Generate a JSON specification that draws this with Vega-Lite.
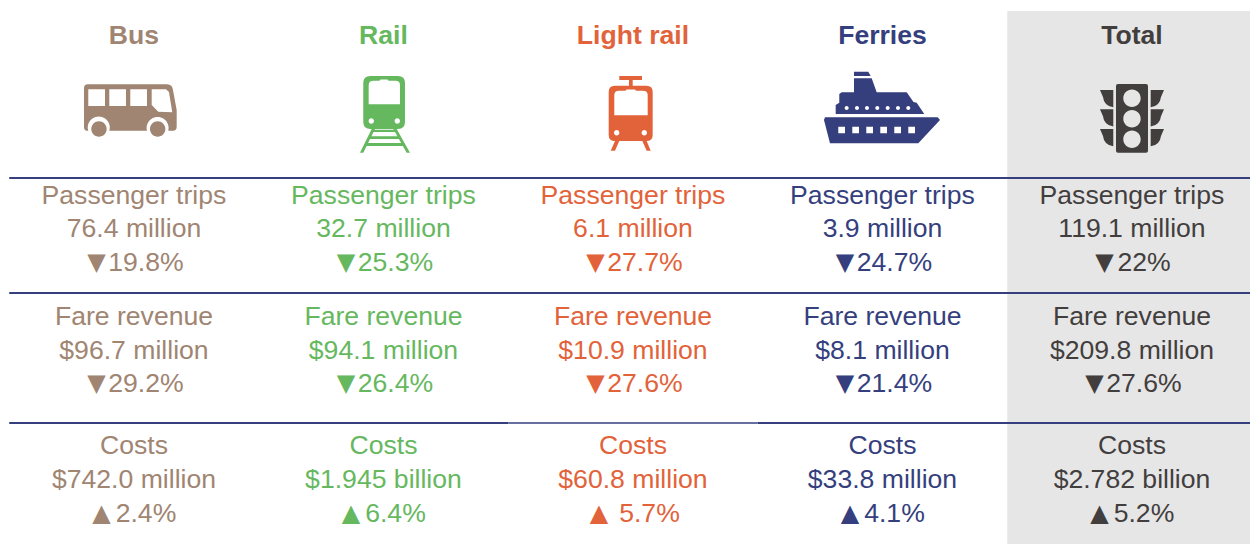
{
"$schema":"https://vega.github.io/schema/vega-lite/v6.json",
"width":1250,"height":544,"padding":0,"autosize":{"type":"none"},"background":"white",
"view":{"stroke":null},
"config":{"font":"Liberation Sans"},
"layer":[
{"data":{"values":[{"x0":3.5,"x1":4.473,"r0":0,"r1":16}]},
 "mark":{"type":"rect","fill":"#E6E6E6"},
 "encoding":{"x":{"field":"x0","type":"quantitative","axis":null,"scale":{"domain":[-0.537,4.473],"range":[0,1250],"nice":false,"zero":false}},"x2":{"field":"x1"},
 "y":{"field":"r0","type":"quantitative","axis":null,"scale":{"domain":[0,1,2,3,4,5,6,7,8,9,10,11,12,13,14,15,16],"range":[11,36,115,178,196,229,263,293,317,351,384,423,446,480,514,530,544],"nice":false,"zero":false}},"y2":{"field":"r1"}}},
{"data":{"values":[
{"r":3,"x0":-0.5,"x1":4.473,"w":"thick"},
{"r":7,"x0":-0.5,"x1":4.473,"w":"thick"},
{"r":11,"x0":-0.5,"x1":1.5,"w":"thick"},
{"r":11,"x0":1.5,"x1":2.5,"w":"thin"},
{"r":11,"x0":2.5,"x1":4.473,"w":"thick"}]},
 "mark":{"type":"rule","color":"#363F7E"},
 "encoding":{"x":{"field":"x0","type":"quantitative"},"x2":{"field":"x1"},"y":{"field":"r","type":"quantitative"},
 "strokeWidth":{"field":"w","type":"nominal","legend":null,"scale":{"domain":["thick","thin"],"range":[2,1.6]}}}},
{"data":{"values":[
{"col":0,"r":2,"mode":"Bus"},{"col":1,"r":2,"mode":"Rail"},{"col":2,"r":2,"mode":"Light rail"},{"col":3,"r":2,"mode":"Ferries"},{"col":4,"r":2,"mode":"Total"}]},
 "mark":{"type":"point","filled":true,"size":4,"opacity":1,"strokeWidth":0},
 "encoding":{"x":{"field":"col","type":"quantitative"},"y":{"field":"r","type":"quantitative"},
 "color":{"field":"mode","type":"nominal","legend":null,"scale":{"domain":["Bus","Rail","Light rail","Ferries","Total"],"range":["#A08572","#66B85F","#E2633A","#363F7E","#433E3E"]}},
 "shape":{"field":"mode","type":"nominal","legend":null,"scale":{"domain":["Bus","Rail","Light rail","Ferries","Total"],"range":[
 "M-50 -26.7Q-50 -30.7 -46 -30.7L32.7 -30.7Q39 -30.7 39.3 -23.3L42.7 -5L42.7 11.7Q42.7 15.7 39 15.7L34.3 15.7A11 11 0 1 0 13 15.7L-24.7 15.7A11 11 0 1 0 -45.7 15.7L-47 15.7Q-50 15.7 -50 12ZM-45.7 -25.7L-45.7 -9L-29 -9L-29 -25.7ZM-24.7 -25.7L-24.7 -9L-8 -9L-8 -25.7ZM-3.7 -25.7L-3.7 -9L13 -9L13 -25.7ZM17.7 -25.7L17.7 -10L24.3 -3.3L38.3 -2.7L35 -23L32 -25.7ZM-42.7 14A7.7 7.7 0 1 1 -27.3 14A7.7 7.7 0 1 1 -42.7 14ZM16 14A7.7 7.7 0 1 1 31.4 14A7.7 7.7 0 1 1 16 14Z",
 "M-20.2 -32Q-20.2 -39 -13 -39L14.5 -39Q21.5 -39 21.5 -32L21.5 7Q21.5 14 14.5 14L-13 14Q-20.2 14 -20.2 7ZM-14.8 -30L-14.8 -10.7L16.5 -10.7L16.5 -30Q16.5 -34.3 12 -34.3L5 -34.3L4 -35.5L-3 -35.5L-4 -34.3L-10 -34.3Q-14.8 -34.3 -14.8 -30ZM-14.9 6A2.7 2.7 0 1 0 -9.5 6A2.7 2.7 0 1 0 -14.9 6ZM11.1 6A2.7 2.7 0 1 0 16.5 6A2.7 2.7 0 1 0 11.1 6ZM-11.8 14L-8.5 14L-20.2 37.7L-23.5 37.7ZM9.8 14L13.2 14L26.5 37.7L23.2 37.7ZM-11 14.7L12 14.7L12 17L-11 17ZM-15 21.3L16 21.3L16 24L-15 24ZM-18.5 28L19.5 28L19.5 31L-18.5 31Z",
 "M-24.3 -23Q-24.3 -29.3 -18 -29.3L13.4 -29.3Q19.7 -29.3 19.7 -23L19.7 20Q19.7 26 13.4 26L-18 26Q-24.3 26 -24.3 20ZM-18.7 -20L-18.7 0.3L14.7 0.3L14.7 -20Q14.7 -24.3 10 -24.3L3 -24.3L2 -25.5L-6.5 -25.5L-7.5 -24.3L-14 -24.3Q-18.7 -24.3 -18.7 -20ZM-19 17.7A2.7 2.7 0 1 0 -13.6 17.7A2.7 2.7 0 1 0 -19 17.7ZM8.6 17.7A2.7 2.7 0 1 0 14 17.7A2.7 2.7 0 1 0 8.6 17.7ZM-13.7 -39L9 -39L9 -35L-0.3 -35L-0.3 -29L-4 -29L-4 -35L-13.7 -35ZM-18 26L-13.7 26L-18 35.7L-22.3 35.7ZM9.3 26L13.7 26L17.7 35.7L13.7 35.7Z",
 "M-57.5 2.3L55.2 2.3L57.5 5L35.8 28.3L-52.5 28.3L-58.5 5ZM-44.2 11.7L-44.2 18.3L-37.5 18.3L-37.5 11.7ZM-30.2 11.7L-30.2 18.3L-23.5 18.3L-23.5 11.7ZM-16.2 11.7L-16.2 18.3L-9.5 18.3L-9.5 11.7ZM-2.2 11.7L-2.2 18.3L4.5 18.3L4.5 11.7ZM11.8 11.7L11.8 18.3L18.5 18.3L18.5 11.7ZM25.8 11.7L25.8 18.3L32.5 18.3L32.5 11.7ZM-46.8 -10L-43.2 -12.3L-43.2 -21L-40.8 -22.7L-28.5 -22.7L-28.5 -36.7L-10.8 -36.7L-5.8 -22.7L24.2 -22.7L31 -13L34.2 -12.3L41.8 -1L-46.8 -1ZM-28.5 -43.3L-14.2 -43.3L-11.8 -39L-28.5 -39ZM-37.8 -7A2 2 0 1 0 -33.8 -7A2 2 0 1 0 -37.8 -7ZM-27.5 -7A2 2 0 1 0 -23.5 -7A2 2 0 1 0 -27.5 -7ZM-17.5 -7A2 2 0 1 0 -13.5 -7A2 2 0 1 0 -17.5 -7ZM-7.2 -7A2 2 0 1 0 -3.2 -7A2 2 0 1 0 -7.2 -7ZM3.2 -7A2 2 0 1 0 7.2 -7A2 2 0 1 0 3.2 -7ZM13.5 -7A2 2 0 1 0 17.5 -7A2 2 0 1 0 13.5 -7ZM23.8 -7A2 2 0 1 0 27.8 -7A2 2 0 1 0 23.8 -7Z",
 "M-16 -29Q-16 -31 -14 -31L14 -31Q16 -31 16 -29L16 35.7Q16 37.7 14 37.7L-14 37.7Q-16 37.7 -16 35.7ZM-8.7 -16.7A8.7 8.7 0 1 0 8.7 -16.7A8.7 8.7 0 1 0 -8.7 -16.7ZM-8.7 3.7A8.7 8.7 0 1 0 8.7 3.7A8.7 8.7 0 1 0 -8.7 3.7ZM-8.7 24.3A8.7 8.7 0 1 0 8.7 24.3A8.7 8.7 0 1 0 -8.7 24.3ZM-32 -25L-18.7 -25L-18.7 -7.7Q-28 -9 -29 -18ZM-32 -5.7L-18.7 -5.7L-18.7 11.6Q-28 10.3 -29 1.3ZM-32 14L-18.7 14L-18.7 31.3Q-28 30 -29 21ZM18.7 -25L32 -25L29 -18Q28 -9 18.7 -7.7ZM18.7 -5.7L32 -5.7L29 1.3Q28 10.3 18.7 11.6ZM18.7 14L32 14L29 21Q28 30 18.7 31.3Z"
 ]}}}},
{"data":{"values":[
{"col":0,"r":1,"mode":"Bus","label":"Bus"},{"col":1,"r":1,"mode":"Rail","label":"Rail"},{"col":2,"r":1,"mode":"Light rail","label":"Light rail"},{"col":3,"r":1,"mode":"Ferries","label":"Ferries"},{"col":4,"r":1,"mode":"Total","label":"Total"}]},
 "mark":{"type":"text","baseline":"middle","align":"center","font":"Liberation Sans","fontSize":26.6,"fontWeight":"bold"},
 "encoding":{"x":{"field":"col","type":"quantitative"},"y":{"field":"r","type":"quantitative"},"text":{"field":"label"},
 "color":{"field":"mode","type":"nominal","legend":null}}},
{"data":{"values":[
{"col":0,"r":4,"mode":"Bus","label":"Passenger trips"},{"col":0,"r":5,"mode":"Bus","label":"76.4 million"},
{"col":1,"r":4,"mode":"Rail","label":"Passenger trips"},{"col":1,"r":5,"mode":"Rail","label":"32.7 million"},
{"col":2,"r":4,"mode":"Light rail","label":"Passenger trips"},{"col":2,"r":5,"mode":"Light rail","label":"6.1 million"},
{"col":3,"r":4,"mode":"Ferries","label":"Passenger trips"},{"col":3,"r":5,"mode":"Ferries","label":"3.9 million"},
{"col":4,"r":4,"mode":"Total","label":"Passenger trips"},{"col":4,"r":5,"mode":"Total","label":"119.1 million"},
{"col":0,"r":8,"mode":"Bus","label":"Fare revenue"},{"col":0,"r":9,"mode":"Bus","label":"$96.7 million"},
{"col":1,"r":8,"mode":"Rail","label":"Fare revenue"},{"col":1,"r":9,"mode":"Rail","label":"$94.1 million"},
{"col":2,"r":8,"mode":"Light rail","label":"Fare revenue"},{"col":2,"r":9,"mode":"Light rail","label":"$10.9 million"},
{"col":3,"r":8,"mode":"Ferries","label":"Fare revenue"},{"col":3,"r":9,"mode":"Ferries","label":"$8.1 million"},
{"col":4,"r":8,"mode":"Total","label":"Fare revenue"},{"col":4,"r":9,"mode":"Total","label":"$209.8 million"},
{"col":0,"r":12,"mode":"Bus","label":"Costs"},{"col":0,"r":13,"mode":"Bus","label":"$742.0 million"},
{"col":1,"r":12,"mode":"Rail","label":"Costs"},{"col":1,"r":13,"mode":"Rail","label":"$1.945 billion"},
{"col":2,"r":12,"mode":"Light rail","label":"Costs"},{"col":2,"r":13,"mode":"Light rail","label":"$60.8 million"},
{"col":3,"r":12,"mode":"Ferries","label":"Costs"},{"col":3,"r":13,"mode":"Ferries","label":"$33.8 million"},
{"col":4,"r":12,"mode":"Total","label":"Costs"},{"col":4,"r":13,"mode":"Total","label":"$2.782 billion"}
]},
 "mark":{"type":"text","baseline":"middle","align":"center","font":"Liberation Sans","fontSize":26.6},
 "encoding":{"x":{"field":"col","type":"quantitative"},"y":{"field":"r","type":"quantitative"},"text":{"field":"label"},
 "color":{"field":"mode","type":"nominal","legend":null}}},
{"data":{"values":[
{"col":0,"r":6,"mode":"Bus","pct":"19.8%","tri":"▼","fit":"long"},
{"col":1,"r":6,"mode":"Rail","pct":"25.3%","tri":"▼","fit":"long"},
{"col":2,"r":6,"mode":"Light rail","pct":"27.7%","tri":"▼","fit":"long"},
{"col":3,"r":6,"mode":"Ferries","pct":"24.7%","tri":"▼","fit":"long"},
{"col":4,"r":6,"mode":"Total","pct":"22%","tri":"▼","fit":"mini"},
{"col":0,"r":10,"mode":"Bus","pct":"29.2%","tri":"▼","fit":"long"},
{"col":1,"r":10,"mode":"Rail","pct":"26.4%","tri":"▼","fit":"long"},
{"col":2,"r":10,"mode":"Light rail","pct":"27.6%","tri":"▼","fit":"long"},
{"col":3,"r":10,"mode":"Ferries","pct":"21.4%","tri":"▼","fit":"long"},
{"col":4,"r":10,"mode":"Total","pct":"27.6%","tri":"▼","fit":"long"},
{"col":0,"r":14,"mode":"Bus","pct":"2.4%","tri":"▲","fit":"short"},
{"col":1,"r":14,"mode":"Rail","pct":"6.4%","tri":"▲","fit":"short"},
{"col":2,"r":14,"mode":"Light rail","pct":"5.7%","tri":"▲","fit":"gap"},
{"col":3,"r":14,"mode":"Ferries","pct":"4.1%","tri":"▲","fit":"short"},
{"col":4,"r":14,"mode":"Total","pct":"5.2%","tri":"▲","fit":"short"}
]},
 "encoding":{"x":{"field":"col","type":"quantitative"},"y":{"field":"r","type":"quantitative"},"color":{"field":"mode","type":"nominal","legend":null}},
 "layer":[
 {"transform":[{"filter":"datum.fit!=='gap'"}],"mark":{"type":"text","baseline":"middle","align":"center","font":"Liberation Sans","fontSize":26.6,"dx":12},"encoding":{"text":{"field":"pct"}}},
 {"transform":[{"filter":"datum.fit==='gap'"}],"mark":{"type":"text","baseline":"middle","align":"center","font":"Liberation Sans","fontSize":26.6,"dx":16.5},"encoding":{"text":{"field":"pct"}}},
 {"transform":[{"filter":"datum.fit==='long'"}],"mark":{"type":"text","baseline":"middle","align":"center","font":"DejaVu Sans","fontSize":24,"dx":-37.5},"encoding":{"text":{"field":"tri"}}},
 {"transform":[{"filter":"datum.fit==='short'"}],"mark":{"type":"text","baseline":"middle","align":"center","font":"DejaVu Sans","fontSize":24,"dx":-32.5},"encoding":{"text":{"field":"tri"}}},
 {"transform":[{"filter":"datum.fit==='mini'"}],"mark":{"type":"text","baseline":"middle","align":"center","font":"DejaVu Sans","fontSize":24,"dx":-27.5},"encoding":{"text":{"field":"tri"}}},
 {"transform":[{"filter":"datum.fit==='gap'"}],"mark":{"type":"text","baseline":"middle","align":"center","font":"DejaVu Sans","fontSize":24,"dx":-34},"encoding":{"text":{"field":"tri"}}}
 ]}
]
}
